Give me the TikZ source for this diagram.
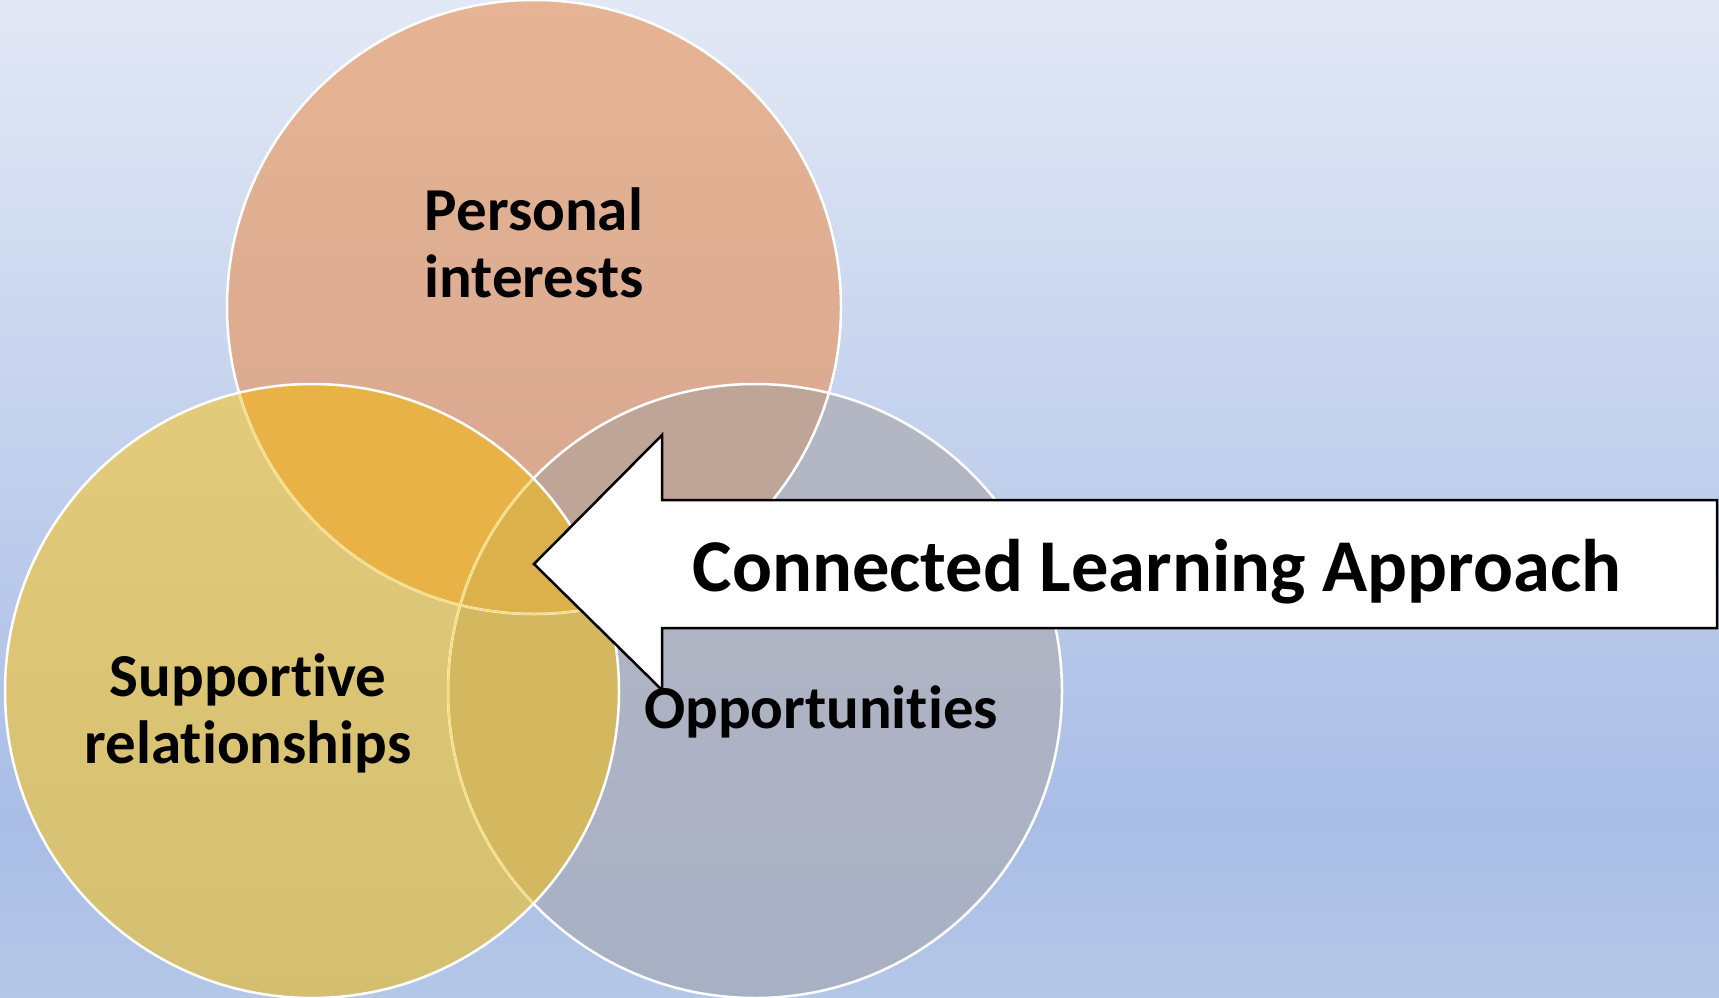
\documentclass[tikz,border=0pt]{standalone}
\usepackage{fontspec}
\setmainfont{Carlito}[Ligatures=NoCommon]
\definecolor{bgtop}{HTML}{E2E8F5}
\definecolor{bgmid}{HTML}{A9BDE6}
\definecolor{bgbot}{HTML}{B5C7E7}
\definecolor{Ttop}{HTML}{E6B494}
\definecolor{Tbot}{HTML}{D6A68F}
\definecolor{Ltop}{HTML}{E2CB7A}
\definecolor{Lbot}{HTML}{D4BF70}
\definecolor{Rtop}{HTML}{B4B7C3}
\definecolor{Rbot}{HTML}{A8B0C4}
\definecolor{TLcol}{HTML}{E8B246}
\definecolor{TRcol}{HTML}{BEA598}
\definecolor{LRcol}{HTML}{D4B860}
\definecolor{TLRcol}{HTML}{DCB04A}
\definecolor{paleyel}{HTML}{F8DC80}
\begin{document}
\begin{tikzpicture}[x=1pt,y=-1pt,
  outline/.style={draw=white,line width=2.5pt},
  innerline/.style={draw=paleyel,line width=2pt},
  circlabel/.style={font=\fontsize{61}{66.7}\selectfont\bfseries,align=center,text=black,inner sep=0pt},
  bigarrow/.style={fill=white,draw=black,line width=2.5pt,line join=miter},
  arrowlabel/.style={font=\fontsize{74.5}{90}\selectfont\bfseries,text=black,inner sep=0pt}]
\useasboundingbox (0,0) rectangle (1719,998);
% background
\shade[top color=bgtop,bottom color=bgmid] (0,0) rectangle (1719,820);
\shade[top color=bgmid,bottom color=bgbot] (0,819.5) rectangle (1719,998);
\coordinate (cT) at (534,307);
\coordinate (cL) at (312,691);
\coordinate (cR) at (755,691);
\def\R{307pt}
% single regions
\begin{scope}
  \clip (cT) circle[radius=\R];
  \shade[top color=Ttop,bottom color=Tbot] (227,0) rectangle (841,614);
\end{scope}
\begin{scope}
  \clip (cL) circle[radius=\R];
  \shade[top color=Ltop,bottom color=Lbot] (5,384) rectangle (619,998);
\end{scope}
\begin{scope}
  \clip (cR) circle[radius=\R];
  \shade[top color=Rtop,bottom color=Rbot] (448,384) rectangle (1062,998);
\end{scope}
% pairwise overlaps
\begin{scope}
  \clip (cT) circle[radius=\R];
  \clip (cL) circle[radius=\R];
  \fill[TLcol] (0,0) rectangle (1719,998);
\end{scope}
\begin{scope}
  \clip (cT) circle[radius=\R];
  \clip (cR) circle[radius=\R];
  \fill[TRcol] (0,0) rectangle (1719,998);
\end{scope}
\begin{scope}
  \clip (cL) circle[radius=\R];
  \clip (cR) circle[radius=\R];
  \fill[LRcol] (0,0) rectangle (1719,998);
\end{scope}
\begin{scope}
  \clip (cT) circle[radius=\R];
  \clip (cL) circle[radius=\R];
  \clip (cR) circle[radius=\R];
  \fill[TLRcol] (0,0) rectangle (1719,998);
\end{scope}
% outlines
\path[outline] (cT) circle[radius=\R];
\path[outline] (cR) circle[radius=\R];
\path[outline] (cL) circle[radius=\R];
\begin{scope}
  \clip (cL) circle[radius=305.5pt];
  \path[innerline] (cT) circle[radius=\R];
  \path[innerline] (cR) circle[radius=\R];
\end{scope}
% labels (base anchor = baseline of last line)
\node[circlabel,anchor=base] (pi) at (534,297) {Personal\\interests};
\node[circlabel,anchor=base] (sr) at (248,763) {Supportive\\relationships};
\node[circlabel,anchor=base] (op) at (821,728) {Opportunities};
% arrow
\coordinate (tip) at (534,564);
\coordinate (ht) at (662,435);
\coordinate (st) at (662,500);
\coordinate (et) at (1717,500);
\coordinate (eb) at (1717,628);
\coordinate (sb) at (662,628);
\coordinate (hb) at (662,690);
\path[bigarrow] (tip) -- (ht) -- (st) -- (et) -- (eb) -- (sb) -- (hb) -- cycle;
\node[arrowlabel,anchor=base] (cla) at (1157,591) {Connected Learning Approach};
\end{tikzpicture}
\end{document}
